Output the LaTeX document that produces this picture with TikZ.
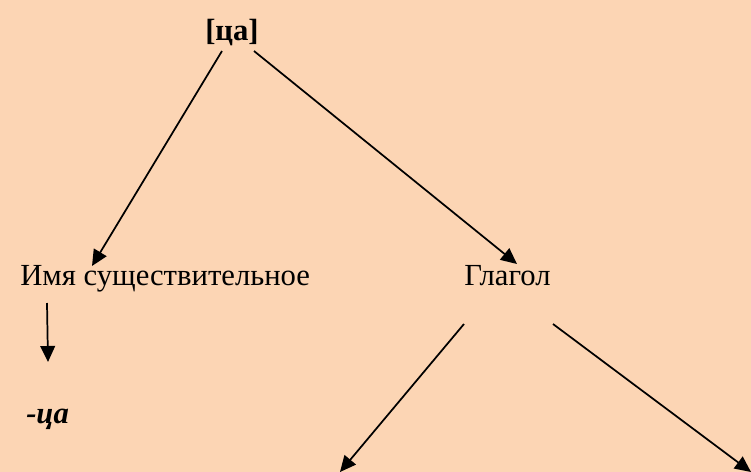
\documentclass[tikz,border=0pt]{standalone}
\usepackage{fontspec}
\setmainfont{Liberation Serif}
\usetikzlibrary{arrows.meta}
\definecolor{peach}{RGB}{252,213,180}

\begin{document}
\begin{tikzpicture}[x=0.75pt,y=-0.75pt,
    word/.style={inner sep=0pt,anchor=base west,font=\fontsize{23}{27}\selectfont},
    arr/.style={line width=1.3pt,-{Triangle[length=12pt,width=11pt]}}]
        % page and background
        \fill[peach] (0,0) rectangle (751,472);
        \useasboundingbox (0,0) rectangle (751,472);
        % words
        \node[word,font=\bfseries\fontsize{23}{27}\selectfont] (root) at (205,40) {[ца]};
        \node[word] (noun) at (20,285) {Имя существительное};
        \node[word] (verb) at (464,285) {Глагол};
        \node[word,font=\bfseries\itshape\fontsize{23}{27}\selectfont] (suff) at (26,423) {-ца};
        % ends of the arrows
        \coordinate (r1) at (222,51);
        \coordinate (r2) at (254,51);
        \coordinate (n1) at (92,266);
        \coordinate (v1) at (517,264);
        \coordinate (n2) at (47,303);
        \coordinate (s1) at (48,362);
        \coordinate (v2) at (464,324);
        \coordinate (v3) at (553,324);
        \coordinate (e1) at (340,472);
        \coordinate (e2) at (751,472);
        \draw[arr] (r1) -- (n1);
        \draw[arr] (r2) -- (v1);
        \draw[arr] (n2) -- (s1);
        \draw[arr] (v2) -- (e1);
        \draw[arr] (v3) -- (e2);
\end{tikzpicture}
\end{document}
